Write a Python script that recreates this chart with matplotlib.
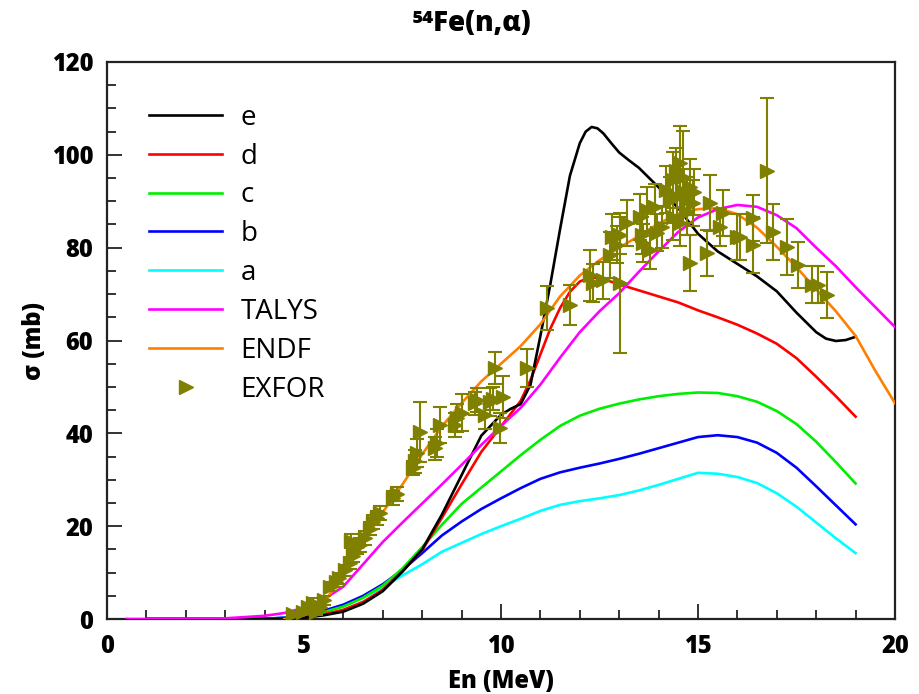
import matplotlib
matplotlib.use("Agg")
import matplotlib.pyplot as plt
from matplotlib.lines import Line2D
from matplotlib.ticker import MultipleLocator

plt.rcParams['font.family'] = ['Open Sans', 'DejaVu Sans']

# ---- model curves (energy in MeV, cross section in mb) ----
E_grid = [1, 2, 3, 4, 4.5, 5, 5.5, 6, 6.5, 7, 7.5, 8, 8.5, 9, 9.5, 10, 10.5, 11,
          11.5, 12, 12.5, 13, 13.5, 14, 14.5, 15, 15.5, 16, 16.5, 17, 17.5, 18,
          18.5, 19]

sig_a = [0, 0, 0, 0.05, 0.3, 0.8, 1.6, 2.8, 4.6, 6.8, 9.4, 11.8, 14.5, 16.4, 18.3,
         20.0, 21.6, 23.3, 24.6, 25.4, 26.0, 26.7, 27.7, 28.9, 30.2, 31.5, 31.3,
         30.6, 29.3, 27.1, 24.2, 20.8, 17.4, 14.2]

sig_b = [0, 0, 0, 0.05, 0.3, 0.9, 1.8, 3.1, 5.0, 7.5, 10.6, 14.2, 18.0, 21.0, 23.7,
         26.0, 28.2, 30.2, 31.6, 32.6, 33.5, 34.5, 35.6, 36.8, 38.0, 39.2, 39.6,
         39.2, 38.0, 35.8, 32.6, 28.6, 24.5, 20.4]

sig_c = [0, 0, 0, 0.04, 0.2, 0.7, 1.5, 2.7, 4.6, 7.2, 10.9, 15.5, 20.3, 24.8, 28.3,
         31.8, 35.3, 38.6, 41.6, 43.8, 45.3, 46.4, 47.3, 48.0, 48.5, 48.8, 48.7,
         48.0, 46.8, 44.8, 42.0, 38.2, 33.8, 29.2]

E_d = [1, 2, 3, 4, 4.5, 5, 5.5, 6, 6.5, 7, 7.5, 8, 8.5, 9, 9.5, 10, 10.5, 10.75,
       11, 11.25, 11.5, 11.75, 12, 12.25, 12.5, 12.75, 13, 13.5, 14, 14.5, 15,
       15.5, 16, 16.5, 17, 17.5, 18, 18.5, 19]
sig_d = [0, 0, 0, 0.02, 0.1, 0.4, 1.0, 2.0, 3.7, 6.3, 10.4, 14.8, 21.8, 29.0, 36.0,
         41.5, 47.0, 51.5, 57.0, 62.5, 67.0, 70.5, 72.7, 73.6, 73.4, 72.8, 72.1,
         70.8, 69.5, 68.2, 66.5, 65.0, 63.4, 61.5, 59.3, 56.2, 52.2, 48.0, 43.6]

E_e = [1, 2, 3, 4, 4.5, 5, 5.5, 6, 6.5, 7, 7.5, 8, 8.5, 9, 9.5, 10, 10.25, 10.5,
       10.75, 11, 11.25, 11.5, 11.75, 12, 12.15, 12.3, 12.45, 12.6, 12.8, 13,
       13.25, 13.5, 14, 14.5, 15, 15.5, 16, 16.5, 17, 17.5, 18, 18.25, 18.5,
       18.75, 19]
sig_e = [0, 0, 0, 0.02, 0.1, 0.3, 0.8, 1.6, 3.3, 6.0, 10.2, 15.0, 22.5, 31.0, 39.5,
         44.0, 45.3, 46.3, 50.5, 61.0, 72.0, 84.0, 95.5, 102.5, 105.0, 106.0,
         105.7, 104.6, 102.5, 100.5, 98.8, 97.2, 93.0, 88.5, 83.0, 79.2, 76.5,
         73.8, 70.6, 66.0, 61.8, 60.4, 59.9, 60.1, 60.8]

E_talys = [0.5, 1, 2, 3, 4, 4.5, 5, 5.5, 6, 6.5, 7, 7.5, 8, 8.5, 9, 9.5, 10, 10.5,
           11, 11.5, 12, 12.5, 13, 13.5, 14, 14.5, 15, 15.5, 16, 16.5, 17, 17.5,
           18, 18.5, 19, 19.5, 20]
sig_talys = [0, 0, 0.05, 0.15, 0.7, 1.3, 2.4, 4.2, 7.0, 11.8, 16.6, 20.8, 24.9,
             29.0, 33.2, 37.5, 41.6, 45.5, 50.5, 56.3, 61.8, 66.3, 70.2, 74.8,
             79.2, 83.4, 86.5, 88.3, 89.2, 88.8, 87.0, 84.2, 80.0, 76.0, 71.5,
             67.2, 62.9]

E_endf = [4.5, 5, 5.5, 6, 6.5, 7, 7.5, 8, 8.5, 9, 9.5, 10, 10.5, 11, 11.5, 12, 12.5,
          13, 13.5, 14, 14.5, 15, 15.5, 16, 16.5, 17, 17.5, 18, 18.5, 19, 19.5, 20]
sig_endf = [0, 0.8, 3.5, 9.5, 16.5, 23.0, 29.0, 35.5, 41.5, 46.5, 51.2, 55.0, 58.8,
            63.5, 69.5, 74.0, 77.3, 80.0, 82.5, 85.2, 87.3, 88.3, 88.5, 87.2, 84.3,
            80.2, 75.8, 71.0, 66.3, 61.0, 53.5, 46.5]

# ---- EXFOR measurements ----
E_exp = [4.72, 4.97, 5.10, 5.23, 5.30, 5.40, 5.50, 5.66, 5.80, 5.90, 6.05, 6.17,
         6.24, 6.35, 6.20, 6.42, 6.55, 6.68, 6.75, 6.85, 6.93, 7.26, 7.36, 7.77,
         7.82, 7.87, 7.94, 8.33, 8.38, 8.45, 8.83, 8.88, 9.00, 9.34, 9.40, 9.59,
         9.72, 9.80, 9.85, 10.05, 9.97, 10.66, 11.17, 11.75, 12.26, 12.34, 12.59,
         13.02, 12.77, 12.82, 12.94, 13.20, 13.02, 13.53, 13.58, 13.70, 13.60,
         13.78, 13.96, 13.90, 14.09, 14.37, 14.54, 14.62, 14.80, 14.47, 14.29,
         14.72, 14.87, 14.37, 14.54, 14.72, 14.20, 14.45, 14.65, 14.90, 15.22,
         14.80, 15.30, 15.63, 15.56, 15.99, 16.40, 16.40, 16.75, 16.90, 17.26,
         17.54, 17.90, 18.05, 18.27, 16.07]
sig_exp = [1.0, 1.5, 2.5, 3.5, 1.5, 2.5, 4.0, 7.0, 8.0, 8.8, 10.5, 12.0,
           13.5, 15.5, 16.8, 16.0, 17.5, 19.5, 21.0, 21.8, 22.8, 26.0, 27.0, 32.5,
           34.0, 35.8, 40.3, 36.8, 38.0, 41.8, 41.8, 43.3, 44.4, 46.5, 47.2, 43.9,
           46.7, 47.5, 54.1, 47.8, 41.1, 54.1, 67.0, 67.6, 74.1, 72.4, 73.0,
           72.4, 78.4, 82.3, 80.6, 85.3, 82.7, 86.6, 82.7, 88.1, 81.0,
           79.5, 83.2, 88.8, 84.4, 94.6, 98.2, 95.2, 93.1, 91.0, 90.3,
           90.3, 89.6, 86.6, 85.3, 87.7, 92.5, 96.5, 92.0, 92.0, 78.8,
           76.7, 89.6, 87.5, 84.4, 82.3, 86.4, 80.6, 96.6, 83.4, 80.1,
           76.3, 72.0, 72.0, 69.8, 82.3]
err_exp = [0.5, 0.5, 0.8, 1.0, 0.6, 0.8, 1.0, 1.0, 1.0, 1.2, 1.2, 1.3,
           1.3, 1.5, 1.5, 1.5, 1.5, 1.5, 1.5, 1.5, 1.5, 1.5, 1.5, 1.5,
           2.5, 3.0, 6.5, 2.5, 3.0, 3.8, 2.5, 3.0, 4.0, 2.5, 2.5, 3.0,
           3.0, 2.5, 3.4, 4.5, 3.2, 4.1, 4.8, 4.3, 5.5, 4.0, 4.0,
           15.0, 5.0, 5.0, 4.0, 5.0, 4.0, 5.0, 4.0, 5.0, 4.0,
           4.0, 4.0, 5.0, 4.5, 6.0, 8.0, 10.0, 6.0, 5.0, 5.0,
           5.0, 5.0, 5.0, 5.0, 5.0, 5.0, 5.0, 5.0, 5.0, 5.0,
           6.0, 6.0, 5.0, 4.0, 5.0, 5.0, 6.0, 15.6, 6.0, 6.0,
           5.0, 4.0, 4.0, 5.0, 5.0]

x_ticks = [0, 5, 10, 15, 20]
y_ticks = [0, 20, 40, 60, 80, 100, 120]

EXP_COLOR = '#808000'

fig = plt.figure(figsize=(9.2, 6.94), dpi=100)
ax = fig.add_axes([0.1163, 0.108, 0.8565, 0.8027])

lw = 1.9
h_a, = ax.plot(E_grid, sig_a, color='#00ffff', lw=lw, zorder=3)
h_b, = ax.plot(E_grid, sig_b, color='#0000ff', lw=lw, zorder=3)
h_c, = ax.plot(E_grid, sig_c, color='#00ee00', lw=lw, zorder=3)
h_d, = ax.plot(E_d, sig_d, color='#ff0000', lw=lw, zorder=3)
h_e, = ax.plot(E_e, sig_e, color='#000000', lw=lw, zorder=3)
h_t, = ax.plot(E_talys, sig_talys, color='#ff00ff', lw=lw, zorder=3)
h_n, = ax.plot(E_endf, sig_endf, color='#ff8000', lw=lw, zorder=3)
ax.errorbar(E_exp, sig_exp, yerr=err_exp, fmt='>', color=EXP_COLOR, ms=10,
            elinewidth=1.5, capsize=5, capthick=1.5, zorder=4)
h_x = Line2D([], [], ls='none', marker='>', ms=10, color=EXP_COLOR)

ax.set_xlim(0, 20)
ax.set_ylim(0, 120)
ax.set_xticks(x_ticks)
ax.set_yticks(y_ticks)
ax.xaxis.set_minor_locator(MultipleLocator(1))
ax.yaxis.set_minor_locator(MultipleLocator(5))
ax.tick_params(which='both', direction='in', top=False, right=False,
               width=1.3, color='#222222')
ax.tick_params(which='major', length=11)
ax.tick_params(axis='x', which='major', pad=11)
ax.tick_params(axis='y', which='major', pad=10)
ax.tick_params(which='minor', length=6.5)
for lab in ax.get_xticklabels() + ax.get_yticklabels():
    lab.set_fontweight('heavy')
    lab.set_fontsize(17)
for sp in ax.spines.values():
    sp.set_linewidth(1.6)
    sp.set_color('#222222')

ax.set_xlabel('En (MeV)', fontsize=17, fontweight='heavy', labelpad=7)
ax.set_ylabel('σ (mb)', fontsize=17, fontweight='heavy', labelpad=3)
fig.text(0.513, 0.966, '⁵⁴Fe(n,α)', ha='center', va='center',
         fontsize=20, fontweight='heavy')

leg = ax.legend([h_e, h_d, h_c, h_b, h_a, h_t, h_n, h_x],
                ['e', 'd', 'c', 'b', 'a', 'TALYS', 'ENDF', 'EXFOR'],
                loc='upper left', bbox_to_anchor=(0.022, 0.970), frameon=False,
                fontsize=20, handlelength=2.63, handletextpad=0.65,
                labelspacing=0.39)

fig.savefig('out.png', dpi=100)
